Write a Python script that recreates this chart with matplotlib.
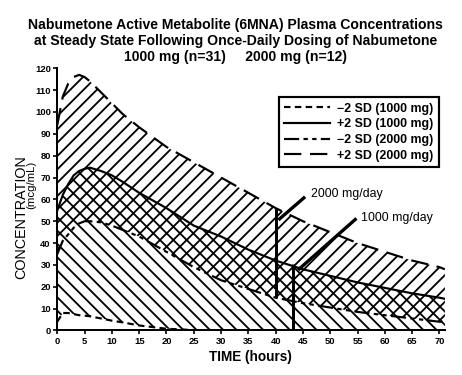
#plot nabumetone 6MNA plasma concentration bands (+/-2 SD)
import matplotlib.pyplot as plt
from matplotlib.lines import Line2D

plt.rcParams['font.family'] = ['Liberation Sans', 'DejaVu Sans']
plt.rcParams['hatch.linewidth'] = 1.1

#time (hours) and band limits (mcg/mL)
hours = [0, 1, 2, 3, 4, 5, 6, 8, 10, 12, 15, 20, 25, 30, 35, 40, 45, 50, 55, 60, 65, 70, 71]
plus2sd_2000 = [94, 107, 113, 116, 117, 116, 114, 109, 104, 99, 93, 84, 77, 70, 63, 56, 50, 45, 40, 36, 32, 29, 28]
minus2sd_2000 = [35, 41, 44, 47, 49, 50, 50, 49.5, 48, 46, 43, 36, 29, 23, 19, 15, 12.5, 10.5, 8.5, 7, 5.5, 4, 4]
plus2sd_1000 = [55, 62, 67, 71, 73, 74, 74.5, 73, 71, 68, 63, 56, 48, 43, 37, 32, 28, 25, 22, 19.5, 17, 15, 14.5]
minus2sd_1000 = [4, 8, 8, 7.5, 7, 6.8, 6.5, 5.5, 4.5, 3.7, 2.3, 0.8, 0.2, 0, 0, 0, 0, 0, 0, 0, 0, 0, 0]

legend_labels = ['\u22122 SD (1000 mg)', '+2 SD (1000 mg)', '\u22122 SD (2000 mg)', '+2 SD (2000 mg)']
x_ticks = list(range(0, 75, 5))
y_ticks = list(range(0, 130, 10))

#steady state markers: (hour, bottom, top) and the label leaders
marker_2000 = (40, 14.7, 56)
marker_1000 = (43.2, 0, 30.6)
leader_2000 = ([40.5, 45.4], [50.6, 61.2])
leader_1000 = ([44.1, 54.8], [27.7, 51.3])

dash_styles = [(3, 2), None, (7, 2, 2, 2, 2, 2), (8, 4)]

fig = plt.figure(figsize=(462/120, 375/120), dpi=120)
ax = fig.add_axes([0.124, 0.1187, 0.839, 0.6992])

ax.fill_between(hours, minus2sd_1000, plus2sd_1000, facecolor='white', edgecolor='black',
                hatch='\\\\\\', linewidth=0)
ax.fill_between(hours, minus2sd_2000, plus2sd_2000, facecolor='none', edgecolor='black',
                hatch='///', linewidth=0)

curves = [minus2sd_1000, plus2sd_1000, minus2sd_2000, plus2sd_2000]
handles = []
for vals, ds, lab in zip(curves, dash_styles, legend_labels):
    kw = {} if ds is None else {'dashes': ds}
    ax.plot(hours, vals, color='black', lw=1.3, **kw)
    handles.append(Line2D([], [], color='black', lw=1.3, label=lab, **kw))

for m in (marker_2000, marker_1000):
    ax.plot([m[0], m[0]], [m[1], m[2]], color='black', lw=1.8, solid_capstyle='butt')
for xs, ys in (leader_2000, leader_1000):
    ax.plot(xs, ys, color='black', lw=2.0, solid_capstyle='butt')
ax.text(46.4, 62.5, '2000 mg/day', fontsize=7.4, va='center', ha='left')
ax.text(55.7, 51.5, '1000 mg/day', fontsize=7.4, va='center', ha='left')

ax.set_xlim(0, 71)
ax.set_ylim(0, 120)
ax.set_xticks(x_ticks)
ax.set_yticks(y_ticks)
for lbl in ax.get_xticklabels() + ax.get_yticklabels():
    lbl.set_fontweight('bold')
ax.tick_params(labelsize=5.6, length=2.4, width=1.0, pad=1.5)
for s in ('top', 'right'):
    ax.spines[s].set_visible(False)
for s in ('left', 'bottom'):
    ax.spines[s].set_linewidth(1.2)

leg = ax.legend(handles=handles, loc='upper right', bbox_to_anchor=(0.985, 0.8905),
                fontsize=7.4, frameon=True, fancybox=False, handlelength=3.7,
                borderpad=0.45, labelspacing=0.3, handletextpad=0.6, borderaxespad=0)
leg.get_frame().set_edgecolor('black')
leg.get_frame().set_linewidth(1.3)
leg.get_frame().set_alpha(1)
for txt in leg.get_texts():
    txt.set_fontweight('bold')

fig.text(250/462, 1-356.7/375, 'TIME (hours)', fontsize=8.2, fontweight='bold',
         ha='center', va='center')
fig.text(21/462, 1-217/375, 'CONCENTRATION', rotation=90, fontsize=8.6, ha='center', va='center')
fig.text(31.5/462, 1-185/375, '(mcg/mL)', rotation=90, fontsize=6.8, ha='center', va='center')

title = ['Nabumetone Active Metabolite (6MNA) Plasma Concentrations',
         'at Steady State Following Once-Daily Dosing of Nabumetone',
         '1000 mg (n=31)     2000 mg (n=12)']
for i, line in enumerate(title):
    fig.text(0.51, 1-(25+16*i)/375, line, fontsize=8.4, fontweight='bold', ha='center', va='center')

fig.savefig('out.png', dpi=120)
